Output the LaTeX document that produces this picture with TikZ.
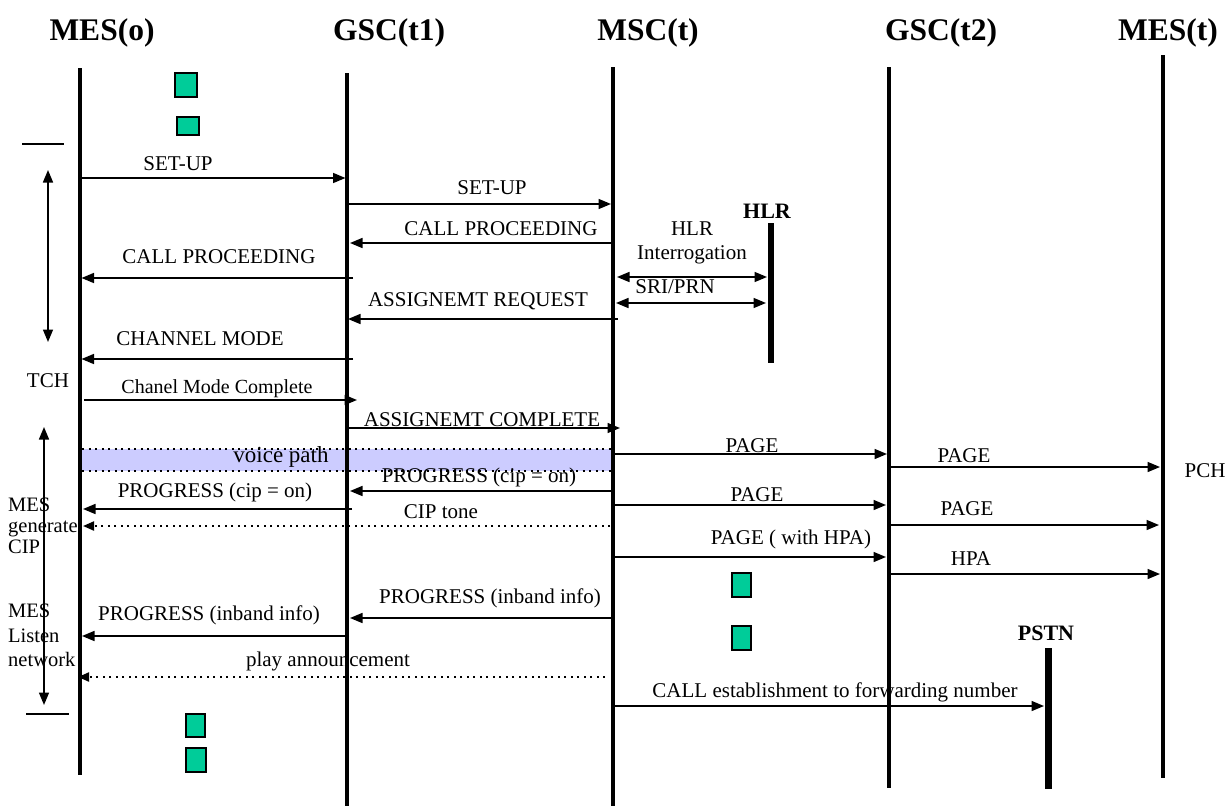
\documentclass[tikz,border=0pt]{standalone}
\usepackage{fontspec}
\setmainfont{Liberation Serif}
\usetikzlibrary{arrows.meta}
\definecolor{boxgreen}{RGB}{0,204,153}
\definecolor{voiceband}{RGB}{204,204,255}
\begin{document}
\begin{tikzpicture}[x=1pt,y=-1pt,
  lifeline/.style={line width=3.4pt},
  thickline/.style={line width=#1},
  tip/.tip={Triangle[length=12.5pt,width=10pt]},
  msg/.style={line width=1.6pt,-tip},
  dmsg/.style={line width=1.6pt,tip-tip},
  dotmsg/.style={line width=2pt,dash pattern=on 2pt off 4.5pt,-{Triangle[length=11pt,width=9pt]}},
  dotline/.style={line width=2pt,dash pattern=on 2pt off 4.5pt},
  lbl/.style={anchor=base,inner sep=0pt,font=\fontsize{21}{24}\selectfont},
  side/.style={anchor=base west,inner sep=0pt,font=\fontsize{20.5}{24}\selectfont},
  head/.style={anchor=base,inner sep=0pt,font=\fontsize{31.5}{36}\selectfont\bfseries},
  ent/.style={anchor=base,inner sep=0pt,font=\fontsize{22}{26}\selectfont\bfseries},
  greenbox/.style={draw,line width=1.3pt,fill=boxgreen},
  phasebar/.style={line width=1.6pt}
]
\useasboundingbox (0,0) rectangle (1226,806);

% lifeline positions
\coordinate (MO) at (80,0);
\coordinate (G1) at (347,0);
\coordinate (MS) at (613,0);
\coordinate (G2) at (889,0);
\coordinate (MT) at (1163,0);
\coordinate (HL) at (771,0);
\coordinate (PS) at (1048,0);
\coordinate (TA) at (48,0);
\coordinate (TB) at (44,0);

% voice path band
\fill[voiceband] (82,449) rectangle (612,471);
\draw[dotline] (82,449) -- (612,449);
\draw[dotline] (82,471) -- (612,471);
\node[lbl,font=\fontsize{23}{27}\selectfont] (vp) at (281,462) {voice path};

% headers
\node[head] (hMO) at (102,40) {MES(o)};
\node[head] (hG1) at (389,40) {GSC(t1)};
\node[head] (hMS) at (648,40) {MSC(t)};
\node[head] (hG2) at (941,40) {GSC(t2)};
\node[head] (hMT) at (1168,40) {MES(t)};

% lifelines
\draw[lifeline] (MO |- 0,68) -- (MO |- 0,775);
\draw[lifeline] (G1 |- 0,73) -- (G1 |- 0,806);
\draw[lifeline,line width=4pt] (MS |- 0,67) -- (MS |- 0,806);
\draw[lifeline] (G2 |- 0,67) -- (G2 |- 0,788);
\draw[lifeline] (MT |- 0,55) -- (MT |- 0,778);
\draw[thickline=5.5pt] (HL |- 0,223) -- (HL |- 0,363);
\draw[thickline=7pt] (PS |- 0,648) -- (PS |- 0,789);
\node[ent] (hHL) at (767,218) {HLR};
\node[ent] (hPS) at (1046,640) {PSTN};

% green state boxes
\draw[greenbox] (175,73) rectangle (197,97);
\draw[greenbox] (177,117) rectangle (199,135);
\draw[greenbox] (186,714) rectangle (205,737);
\draw[greenbox] (186,748) rectangle (206,772);
\draw[greenbox] (732,573) rectangle (751,597);
\draw[greenbox] (732,626) rectangle (751,650);

% left-hand phase markers
\draw[phasebar] (22,144) -- (64,144);
\draw[dmsg] (TA |- 0,170) -- (TA |- 0,342);
\node[lbl] (tch) at (48,387) {TCH};
\draw[dmsg] (TB |- 0,427) -- (TB |- 0,705);
\draw[phasebar] (26,714) -- (69,714);
\node[side] (n1) at (8,511) {MES};
\node[side] (n2) at (8,532) {generate};
\node[side] (n3) at (8,553) {CIP};
\node[side] (n4) at (8,617) {MES};
\node[side] (n5) at (8,642) {Listen};
\node[side] (n6) at (8,666) {network};

% MES(o) <-> GSC(t1)
\draw[msg] ([xshift=2pt]MO |- 0,178) -- ([xshift=-1.5pt]G1 |- 0,178);
\node[lbl] (m1) at (178,170) {SET-UP};
\draw[msg] ([xshift=6pt]G1 |- 0,278) -- ([xshift=1.5pt]MO |- 0,278);
\node[lbl] (m2) at (219,263) {CALL PROCEEDING};
\draw[msg] ([xshift=6pt]G1 |- 0,359) -- ([xshift=1.5pt]MO |- 0,359);
\node[lbl] (m3) at (200,345) {CHANNEL MODE};
\draw[msg] ([xshift=4pt]MO |- 0,400) -- ([xshift=10pt]G1 |- 0,400);
\node[lbl,font=\fontsize{20}{24}\selectfont] (m4) at (217,393) {Chanel Mode Complete};
\draw[msg] ([xshift=5pt]G1 |- 0,509) -- ([xshift=3pt]MO |- 0,509);
\node[lbl] (m5) at (215,497) {PROGRESS (cip = on)};
\draw[dotmsg] ([xshift=-3pt]MS |- 0,526) -- ([xshift=3pt]MO |- 0,526);
\node[lbl] (m6) at (441,518) {CIP tone};
\draw[msg] ([xshift=2pt]G1 |- 0,636) -- ([xshift=2pt]MO |- 0,636);
\node[lbl] (m7) at (209,620) {PROGRESS (inband info)};
\draw[dotmsg] ([xshift=-8pt]MS |- 0,677) -- ([xshift=-2pt]MO |- 0,677);
\node[lbl] (m8) at (328,666) {play announcement};

% GSC(t1) <-> MSC(t)
\draw[msg] ([xshift=2pt]G1 |- 0,204) -- ([xshift=-2pt]MS |- 0,204);
\node[lbl] (c1) at (492,194) {SET-UP};
\draw[msg] (MS |- 0,243) -- ([xshift=3pt]G1 |- 0,243);
\node[lbl] (c2) at (501,235) {CALL PROCEEDING};
\draw[msg] ([xshift=5pt]MS |- 0,319) -- ([xshift=1pt]G1 |- 0,319);
\node[lbl] (c3) at (478,306) {ASSIGNEMT REQUEST};
\draw[msg] ([xshift=1pt]G1 |- 0,428) -- ([xshift=7pt]MS |- 0,428);
\node[lbl] (c4) at (482,426) {ASSIGNEMT COMPLETE};
\draw[msg] (MS |- 0,491) -- ([xshift=3pt]G1 |- 0,491);
\node[lbl] (c5) at (479,482) {PROGRESS (cip = on)};
\draw[msg] (MS |- 0,618) -- ([xshift=3pt]G1 |- 0,618);
\node[lbl] (c6) at (490,603) {PROGRESS (inband info)};

% MSC(t) <-> HLR
\node[lbl] (h1) at (692,235) {HLR};
\node[lbl] (h2) at (692,259) {Interrogation};
\draw[dmsg] ([xshift=4pt]MS |- 0,277) -- ([xshift=-4pt]HL |- 0,277);
\node[lbl] (h3) at (675,293) {SRI/PRN};
\draw[dmsg] ([xshift=3pt]MS |- 0,303) -- ([xshift=-5pt]HL |- 0,303);

% MSC(t) -> GSC(t2)
\draw[msg] ([xshift=2pt]MS |- 0,454) -- ([xshift=-2pt]G2 |- 0,454);
\node[lbl] (r1) at (752,452) {PAGE};
\draw[msg] ([xshift=2pt]MS |- 0,505) -- ([xshift=-3pt]G2 |- 0,505);
\node[lbl] (r2) at (757,501) {PAGE};
\draw[msg] ([xshift=2pt]MS |- 0,557) -- ([xshift=-3pt]G2 |- 0,557);
\node[lbl] (r3) at (791,544) {PAGE ( with HPA)};
\draw[msg] ([xshift=-1pt]MS |- 0,706) -- ([xshift=-4pt]PS |- 0,706);
\node[lbl] (r4) at (835,697) {CALL establishment to forwarding number};

% GSC(t2) -> MES(t)
\draw[msg] ([xshift=1pt]G2 |- 0,467) -- ([xshift=-3pt]MT |- 0,467);
\node[lbl] (t1) at (964,462) {PAGE};
\draw[msg] ([xshift=1pt]G2 |- 0,525) -- ([xshift=-4pt]MT |- 0,525);
\node[lbl] (t2) at (967,515) {PAGE};
\draw[msg] ([xshift=1pt]G2 |- 0,574) -- ([xshift=-3pt]MT |- 0,574);
\node[lbl] (t3) at (971,565) {HPA};
\node[lbl] (pch) at (1205,477) {PCH};
\end{tikzpicture}
\end{document}
